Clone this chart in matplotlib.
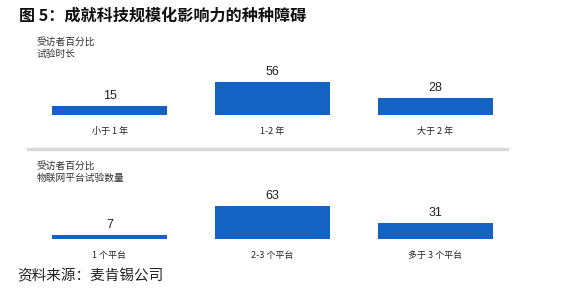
import matplotlib
matplotlib.use("Agg")
import matplotlib.pyplot as plt

plt.rcParams['font.family'] = ['Noto Sans CJK SC', 'DejaVu Sans']

title = "图 5：成就科技规模化影响力的种种障碍"
source = "资料来源：麦肯锡公司"

p1_sub = "受访者百分比\n试验时长"
p1_cats = ["小于 1 年", "1-2 年", "大于 2 年"]
p1_vals = [15, 56, 28]

p2_sub = "受访者百分比\n物联网平台试验数量"
p2_cats = ["1 个平台", "2-3 个平台", "多于 3 个平台"]
p2_vals = [7, 63, 31]

W, H = 569, 307
fig = plt.figure(figsize=(W / 100, H / 100), dpi=100)
fig.patch.set_facecolor("white")

BLUE = "#1463c4"

def fx(px):
    return px / W

def fy(py):
    return 1 - py / H

def panel(base_py, sub, sub_py, cats, vals):
    x0, x1 = 28, 517
    h = 33
    ax = fig.add_axes([fx(x0), fy(base_py), fx(x1 - x0), h / H])
    xs = range(len(vals))
    ax.bar(xs, vals, width=0.71, color=BLUE)
    ax.set_xlim(-0.5, len(vals) - 0.5)
    ax.set_ylim(0, max(vals))
    ax.axis("off")
    for x, v in zip(xs, vals):
        ax.annotate(str(v), (x, v), xytext=(0, 3), textcoords="offset points",
                    ha="center", va="bottom", fontsize=9,
                    family=["Liberation Sans", "DejaVu Sans"], color="#222222",
                    annotation_clip=False)
        ax.annotate(cats[x], (x, 0), xytext=(0, -12), textcoords="offset points",
                    ha="center", va="center", fontsize=6.5, color="#222222",
                    annotation_clip=False)
    fig.text(fx(37), fy(sub_py), sub, ha="left", va="top", fontsize=7,
             color="#333333", linespacing=1.3)

fig.text(fx(19), fy(16), title, ha="left", va="center", fontsize=11.6,
         fontweight="bold", color="#111111")

panel(115, p1_sub, 37, p1_cats, p1_vals)
fig.add_artist(plt.Line2D([fx(28), fx(507)], [fy(149), fy(149)],
                          color="#d8d8d8", lw=2.4))
panel(239, p2_sub, 161, p2_cats, p2_vals)

fig.text(fx(17), fy(276), source, ha="left", va="center", fontsize=10.5,
         color="#222222")

fig.savefig("out.png", dpi=100, facecolor="white")
